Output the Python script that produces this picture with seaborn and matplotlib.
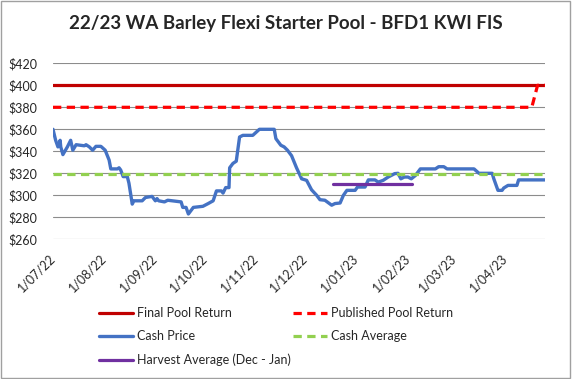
import numpy as np
import pandas as pd
import matplotlib
matplotlib.use("Agg")
import matplotlib.pyplot as plt
from matplotlib.patches import Rectangle
import seaborn as sns

# day offsets from 1 July 2022
start = pd.Timestamp("2022-07-01")
cash_days = [0, 1.6, 3, 4.3, 4.7, 6, 8.7, 10.7, 12, 14, 19, 20, 22, 24, 26, 29, 31.6, 34, 35, 39,
             40, 41, 42.5, 45, 46, 48, 49, 54, 56, 60, 62, 63, 64, 67.5, 69.5, 77.6, 78.6, 80.6, 82, 85,
             90.8, 94, 97, 99, 102, 103, 104.6, 106.6, 107, 109, 111, 113, 115, 121, 125, 134, 135, 138, 140, 142,
             144.5, 147.5, 150.6, 153.6, 156.6, 159.7, 161.7, 164.7, 168.8, 170.8, 173.9, 175.9, 178, 183, 184.4, 189, 191, 195, 197, 200,
             203, 207, 209, 210.7, 212.8, 215, 217, 219.5, 222.5, 231.6, 233.6, 236.7, 238.7, 255, 258, 266, 267, 269.5, 272, 273,
             275.6, 281, 282, 298]
cash_price = [360, 350, 344, 350, 344, 337, 344, 350, 341, 346, 345, 346, 344, 341, 344.5, 344.5, 341, 332, 324, 324,
              325, 323, 317, 317, 311, 292, 295, 295, 298, 299, 295, 297, 295, 294, 295.5, 294, 289, 289, 283, 289,
              290, 292.5, 295, 304, 304, 302, 307, 307, 325, 329, 331, 353, 354.5, 354.5, 360, 360, 351.5, 345.5, 344, 341,
              336, 325, 315, 313.6, 305, 300, 296, 295.5, 291, 292.5, 293, 300, 304.5, 304.5, 307.5, 307.5, 314, 314, 312, 313.6,
              316.6, 319.7, 320, 315, 316.6, 316.6, 315, 318, 324, 324, 326, 326, 324, 324, 320, 320, 315, 304.5, 304.5, 306.6,
              309, 309, 314, 314]

final_days = [0, 298]
final_return = [400, 400]
published_days = [0, 290, 293.5, 298]
published_return = [380, 380, 400, 400]
avg_days = [0, 298]
cash_average = [319, 319]
harvest_days = [169.6, 217.6]
harvest_average = [310, 310]

tick_dates = pd.date_range("2022-07-01", "2023-04-01", freq="MS")
tick_labels = ["1/07/22", "1/08/22", "1/09/22", "1/10/22", "1/11/22", "1/12/22",
               "1/01/23", "1/02/23", "1/03/23", "1/04/23"]
y_ticks = [260, 280, 300, 320, 340, 360, 380, 400, 420]


def to_dates(days):
    return start + pd.to_timedelta(days, unit="D")


sns.set_style("white")
plt.rcParams["font.family"] = ["Lato", "DejaVu Sans"]

fig = plt.figure(figsize=(5.72, 3.79), dpi=100)
ax = fig.add_axes([53 / 572, 1 - 239.3 / 379, (545 - 53) / 572, (239.3 - 63.3) / 379])

sns.lineplot(x=to_dates(final_days), y=final_return, ax=ax, color="#C00000", linewidth=2.3,
             label="Final Pool Return")
sns.lineplot(x=to_dates(published_days), y=published_return, ax=ax, color="#FF0000", linewidth=2.3,
             linestyle=(0, (2.6, 1.7)), label="Published Pool Return")
sns.lineplot(x=to_dates(cash_days), y=cash_price, ax=ax, color="#4472C4", linewidth=2.4,
             label="Cash Price")
sns.lineplot(x=to_dates(avg_days), y=cash_average, ax=ax, color="#92D050", linewidth=2.3,
             linestyle=(0, (2.6, 1.7)), label="Cash Average")
sns.lineplot(x=to_dates(harvest_days), y=harvest_average, ax=ax, color="#7030A0", linewidth=2.3,
             label="Harvest Average (Dec - Jan)")

ax.set_xlim(to_dates([0])[0], to_dates([298])[0])
ax.set_ylim(260, 420)
ax.set_yticks(y_ticks)
ax.set_yticklabels(["${}".format(v) for v in y_ticks], fontsize=9)
ax.set_xticks(tick_dates)
ax.set_xticklabels(tick_labels, fontsize=9, rotation=45, ha="right", va="center",
                   rotation_mode="anchor")
ax.tick_params(axis="x", length=0, pad=12)
ax.tick_params(axis="y", length=0, pad=11)
ax.grid(axis="y", color="#8c8c8c", linewidth=0.8)
ax.set_axisbelow(True)
for s in ax.spines.values():
    s.set_visible(False)
ax.set_xlabel("")
ax.set_ylabel("")

# legend in Excel order (column-major fill)
h, l = ax.get_legend_handles_labels()
order = [0, 2, 4, 1, 3]
ax.get_legend().remove()
fig.legend([h[i] for i in order], [l[i] for i in order], ncol=2, frameon=False,
           loc="upper left", bbox_to_anchor=(88 / 572, 1 - 296 / 379), fontsize=9,
           handlelength=2.7, handletextpad=0.35, labelspacing=0.9, columnspacing=0.15)

fig.text(0.5, 1 - 23 / 379, "22/23 WA Barley Flexi Starter Pool - BFD1 KWI FIS",
         ha="center", va="center", fontsize=13.5, fontweight="bold")
fig.patches.append(Rectangle((0.002, 0.003), 0.995, 0.994, transform=fig.transFigure,
                             fill=False, edgecolor="#a0a0a0", linewidth=1))

fig.savefig("out.png", dpi=100)
